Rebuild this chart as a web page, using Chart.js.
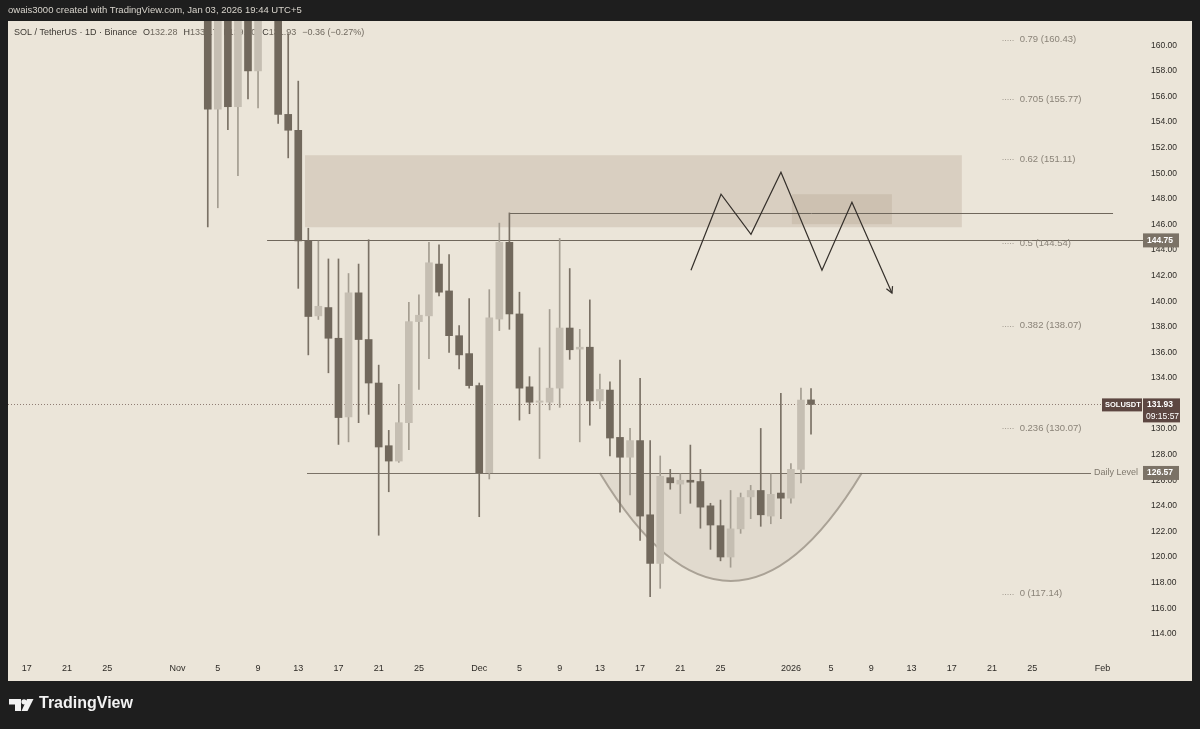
<!DOCTYPE html>
<html><head><meta charset="utf-8">
<script src="https://cdn.jsdelivr.net/npm/chart.js@4.4.1/dist/chart.umd.min.js"></script>
<style>
html,body{margin:0;padding:0;background:#1e1e1e;width:1200px;height:729px;overflow:hidden;}
#wrap{position:absolute;left:0;top:0;width:1200px;height:729px;}
#hdr{position:absolute;left:8px;top:4px;font:9.5px 'Liberation Sans',Arial,sans-serif;color:#d8d4cc;white-space:nowrap;}
#logo{position:absolute;left:39px;top:694px;font:bold 16px 'Liberation Sans',Arial,sans-serif;color:#f2f2f2;white-space:nowrap;}
</style></head>
<body>
<div id="wrap"><canvas id="c" width="1200" height="729"></canvas></div>
<div id="hdr">owais3000 created with TradingView.com, Jan 03, 2026 19:44 UTC+5</div>
<div id="logo">TradingView</div>
<script>
// ---------- DATA ----------
const dates = ['2025-11-04','2025-11-05','2025-11-06','2025-11-07','2025-11-08','2025-11-09','2025-11-10','2025-11-11','2025-11-12','2025-11-13',
'2025-11-14','2025-11-15','2025-11-16','2025-11-17','2025-11-18','2025-11-19','2025-11-20','2025-11-21','2025-11-22','2025-11-23',
'2025-11-24','2025-11-25','2025-11-26','2025-11-27','2025-11-28','2025-11-29','2025-11-30','2025-12-01','2025-12-02','2025-12-03',
'2025-12-04','2025-12-05','2025-12-06','2025-12-07','2025-12-08','2025-12-09','2025-12-10','2025-12-11','2025-12-12','2025-12-13',
'2025-12-14','2025-12-15','2025-12-16','2025-12-17','2025-12-18','2025-12-19','2025-12-20','2025-12-21','2025-12-22','2025-12-23',
'2025-12-24','2025-12-25','2025-12-26','2025-12-27','2025-12-28','2025-12-29','2025-12-30','2025-12-31','2026-01-01','2026-01-02','2026-01-03'];
const opens  = [164.5,155.0,163.5,155.2,163.5,158.0,164.0,167.0,154.6,153.36,
144.7,138.85,139.5,137.1,130.96,140.65,137.0,133.6,128.7,127.5,
130.5,138.4,138.85,142.9,140.8,137.3,135.9,133.4,126.6,138.6,
144.6,139.0,133.3,132.1,132.1,133.2,137.9,136.25,136.4,132.2,
133.05,129.35,127.8,129.1,123.3,119.5,126.2,125.7,126.0,125.9,
124.0,122.45,120.0,122.2,124.7,125.2,123.2,125.0,124.6,126.85,132.28];
const highs  = [167.0,165.0,165.0,166.0,165.0,166.0,170.0,168.0,160.9,157.2,
145.7,144.7,143.3,143.3,142.16,142.9,144.8,135.0,129.9,133.5,
139.9,140.5,144.6,144.4,143.65,138.1,140.2,133.6,140.9,146.1,
146.9,140.7,134.1,136.35,139.35,144.9,142.55,137.8,140.1,134.3,
133.7,135.4,130.05,133.96,129.1,127.9,126.85,126.5,128.75,126.85,
124.2,124.45,125.2,125.0,125.6,130.05,126.5,132.8,127.3,133.2,133.17];
const lows   = [145.8,147.3,153.4,149.8,155.8,155.1,162.3,153.9,151.2,141.0,
135.8,138.57,134.4,128.8,129.0,130.5,131.15,121.7,125.1,127.4,
128.4,133.1,135.5,140.4,136.0,134.7,133.2,123.15,126.1,137.7,
137.8,130.7,131.2,127.7,131.5,131.7,135.45,129.0,130.3,131.6,
127.9,123.5,124.85,121.3,116.9,117.55,125.3,123.4,124.2,122.25,
120.6,119.7,119.2,121.85,123.0,122.4,122.6,123.0,124.2,125.8,129.6];
const closes = [155.0,163.0,155.2,163.5,158.0,164.0,167.0,154.6,153.36,144.7,
138.8,139.6,137.1,130.9,140.65,137.0,133.6,128.6,127.5,130.5,
138.4,138.9,143.0,140.7,137.3,135.8,133.4,126.6,138.7,144.6,
139.0,133.2,132.1,132.2,133.2,137.9,136.2,136.4,132.2,133.1,
129.3,127.8,129.1,123.2,119.5,126.3,125.8,126.0,125.85,123.9,
122.5,120.0,122.2,124.65,125.2,123.3,124.9,124.6,126.85,132.27,131.93];

const yTickValues = [114,116,118,120,122,124,126,128,130,132,134,136,138,140,142,144,146,148,150,152,154,156,158,160];
const xTickDates  = ['2025-10-17','2025-10-21','2025-10-25','2025-11-01','2025-11-05','2025-11-09','2025-11-13','2025-11-17','2025-11-21','2025-11-25',
'2025-12-01','2025-12-05','2025-12-09','2025-12-13','2025-12-17','2025-12-21','2025-12-25','2026-01-01','2026-01-05','2026-01-09','2026-01-13','2026-01-17','2026-01-21','2026-01-25','2026-02-01'];
const xTickLabels = ['17','21','25','Nov','5','9','13','17','21','25','Dec','5','9','13','17','21','25','2026','5','9','13','17','21','25','Feb'];

const fibRatios = ['0.79','0.705','0.62','0.5','0.382','0.236','0'];
const fibPrices = [160.43,155.77,151.11,144.54,138.07,130.07,117.14];

const zigDays   = [66.06,69.05,72.03,75.01,79.09,82.07,86.05];
const zigPrices = [142.42,148.36,145.23,150.08,142.42,147.73,140.63];

const headerTitle = 'SOL / TetherUS · 1D · Binance';
const ohlcKeys = ['O','H','L','C'];
const ohlcVals = ['132.28','133.17','129.60','131.93'];
const changeText = '−0.36 (−0.27%)';

const lastPrice = 131.93, lastTime = '09:15:57';
const resistance = 144.75, upperLine = 146.875, dailyLevel = 126.57;
const zoneBig = {d0:27.67, d1:93.0, p0:145.78, p1:151.41};
const zoneSmall = {d0:76.1, d1:86.05, p0:146.02, p1:148.36};
const cup = {d0:57.0, d1:83.05, p:126.57, depth:8.44};

// ---------- HELPERS ----------
const base = Date.UTC(2025,9,17);
function dayIdx(s){const [y,m,d]=s.split('-').map(Number);return (Date.UTC(y,m-1,d)-base)/86400000;}
const candleX = dates.map(dayIdx);
const isUp = closes.map((c,i)=>c>=opens[i]);
const DARK='#71685c', LIGHT='#c5beb2', DARKW='#7a7165', LIGHTW='#a39c90';
const FONT="'Liberation Sans', Arial, sans-serif";

const annot = {
  id:'annot',
  beforeDraw(chart){
    const ctx=chart.ctx; ctx.save();
    ctx.fillStyle='#1e1e1e'; ctx.fillRect(0,0,1200,729);
    ctx.fillStyle='#ebe5d9'; ctx.fillRect(8,21,1184,660);
    // logo icon
    ctx.fillStyle='#f2f2f2';
    ctx.fillRect(9,699,12,5.5); ctx.fillRect(15,699,6,12);
    ctx.beginPath(); ctx.arc(24,701.8,2.6,0,Math.PI*2); ctx.fill();
    ctx.beginPath(); ctx.moveTo(27,699); ctx.lineTo(33.5,699); ctx.lineTo(27.5,711); ctx.lineTo(21.5,711); ctx.closePath(); ctx.fill();
    ctx.restore();
  },
  beforeDatasetsDraw(chart){
    const ctx=chart.ctx, xs=chart.scales.x, ys=chart.scales.y, ca=chart.chartArea;
    const X=v=>xs.getPixelForValue(v), Y=v=>ys.getPixelForValue(v);
    ctx.save();
    // header line
    ctx.font='9px '+FONT; ctx.textBaseline='middle';
    const hy=33; let hx=14;
    ctx.fillStyle='#3c3832'; ctx.fillText(headerTitle,hx,hy); hx+=ctx.measureText(headerTitle).width+6;
    ohlcKeys.forEach((k,i)=>{
      ctx.fillStyle='#3c3832'; ctx.fillText(k,hx,hy); hx+=ctx.measureText(k).width;
      ctx.fillStyle='#6f685e'; ctx.fillText(ohlcVals[i],hx,hy); hx+=ctx.measureText(ohlcVals[i]).width+6;
    });
    ctx.fillStyle='#6f685e'; ctx.fillText(changeText,hx,hy);
    // zones
    ctx.fillStyle='rgba(165,145,125,0.25)';
    ctx.fillRect(X(zoneBig.d0),Y(zoneBig.p1),X(zoneBig.d1)-X(zoneBig.d0),Y(zoneBig.p0)-Y(zoneBig.p1));
    ctx.fillStyle='rgba(165,145,125,0.22)';
    ctx.fillRect(X(zoneSmall.d0),Y(zoneSmall.p1),X(zoneSmall.d1)-X(zoneSmall.d0),Y(zoneSmall.p0)-Y(zoneSmall.p1));
    // cup (quadratic curve)
    const cx0=X(cup.d0), cx1=X(cup.d1), cy=Y(cup.p), cc=Y(cup.p-2*cup.depth);
    ctx.beginPath(); ctx.moveTo(cx0,cy); ctx.quadraticCurveTo((cx0+cx1)/2,cc,cx1,cy); ctx.closePath();
    ctx.fillStyle='rgba(160,145,128,0.13)'; ctx.fill();
    ctx.beginPath(); ctx.moveTo(cx0,cy); ctx.quadraticCurveTo((cx0+cx1)/2,cc,cx1,cy);
    ctx.strokeStyle='#aaa296'; ctx.lineWidth=2; ctx.stroke();
    // horizontal lines
    ctx.strokeStyle='#6f675c'; ctx.lineWidth=1;
    const hl=(d0,x1,p)=>{const y=Math.round(Y(p))+0.5;ctx.beginPath();ctx.moveTo(X(d0),y);ctx.lineTo(x1,y);ctx.stroke();};
    hl(23.9,ca.right,resistance);
    hl(48.06,X(108.04),upperLine);
    ctx.strokeStyle='#7a7267';
    hl(27.87,X(105.85),dailyLevel);
    // dotted last price
    ctx.strokeStyle='#8f7d74'; ctx.setLineDash([1,2]);
    const ly=Math.round(Y(lastPrice))+0.5;
    ctx.beginPath(); ctx.moveTo(ca.left,ly); ctx.lineTo(ca.right-41,ly); ctx.stroke();
    // fib labels
    ctx.strokeStyle='#a8a196'; ctx.setLineDash([1,1.5]);
    ctx.font='9.5px '+FONT; ctx.fillStyle='#8a8378'; ctx.textBaseline='middle';
    fibPrices.forEach((p,i)=>{
      const y=Math.round(Y(p))+0.5;
      ctx.beginPath(); ctx.moveTo(X(97.05),y); ctx.lineTo(X(98.2),y); ctx.stroke();
      ctx.fillText(fibRatios[i]+' ('+p.toFixed(2)+')',X(98.75),Y(p));
    });
    ctx.setLineDash([]);
    ctx.restore();
  },
  afterDatasetsDraw(chart){
    const ctx=chart.ctx, xs=chart.scales.x, ys=chart.scales.y, ca=chart.chartArea;
    const X=v=>xs.getPixelForValue(v), Y=v=>ys.getPixelForValue(v);
    ctx.save();
    // arrowhead
    const n=zigDays.length;
    const ex=X(zigDays[n-1]), ey=Y(zigPrices[n-1]), sx=X(zigDays[n-2]), sy=Y(zigPrices[n-2]);
    const ang=Math.atan2(ey-sy,ex-sx);
    ctx.strokeStyle='#35302b'; ctx.lineWidth=1.2;
    ctx.beginPath();
    ctx.moveTo(ex-7*Math.cos(ang-0.5),ey-7*Math.sin(ang-0.5)); ctx.lineTo(ex,ey);
    ctx.lineTo(ex-7*Math.cos(ang+0.5),ey-7*Math.sin(ang+0.5)); ctx.stroke();
    // Daily Level text
    ctx.font='9px '+FONT; ctx.fillStyle='#7f786d'; ctx.textBaseline='middle';
    ctx.fillText('Daily Level  -',ca.right-49,Y(dailyLevel));
    // price-axis boxes
    const bx=ca.right;
    const box=(p,txt,col)=>{const y=Y(p);ctx.fillStyle=col;ctx.fillRect(bx,y-7,36,14);
      ctx.fillStyle='#ffffff';ctx.font='bold 8.5px '+FONT;ctx.textAlign='left';ctx.fillText(txt,bx+4,y);};
    box(resistance,resistance.toFixed(2),'#7b7266');
    box(dailyLevel,dailyLevel.toFixed(2),'#7b7266');
    const y0=Y(lastPrice);
    ctx.fillStyle='#5c4641'; ctx.fillRect(bx,y0-6,37,24);
    ctx.fillStyle='#ffffff'; ctx.font='bold 8.5px '+FONT;
    ctx.fillText(lastPrice.toFixed(2),bx+4,y0);
    ctx.font='8.5px '+FONT; ctx.fillText(lastTime,bx+3,y0+12);
    ctx.fillStyle='#5c4641'; ctx.fillRect(bx-41,y0-6,40,13);
    ctx.fillStyle='#ffffff'; ctx.font='bold 7.5px '+FONT; ctx.fillText('SOLUSDT',bx-38,y0+0.5);
    ctx.restore();
  }
};

const chart = new Chart(document.getElementById('c'),{
  type:'bar',
  data:{datasets:[
    {type:'line',data:zigDays.map((d,i)=>({x:d,y:zigPrices[i]})),borderColor:'#35302b',borderWidth:1.2,pointRadius:0,tension:0,order:0},
    {data:candleX.map((x,i)=>({x,y:[lows[i],highs[i]]})),backgroundColor:isUp.map(u=>u?LIGHTW:DARKW),barThickness:1,grouped:false,order:2},
    {data:candleX.map((x,i)=>({x,y:[opens[i],closes[i]]})),backgroundColor:isUp.map(u=>u?LIGHT:DARK),barThickness:7,grouped:false,order:1,minBarLength:1}
  ]},
  options:{
    responsive:false,animation:false,devicePixelRatio:1,events:[],
    layout:{padding:{left:8,top:21,right:8,bottom:49}},
    plugins:{legend:{display:false},tooltip:{enabled:false}},
    scales:{
      x:{type:'linear',min:-1.87,max:111.02,offset:false,
        grid:{display:false,drawTicks:false,offset:false},border:{display:false},
        afterBuildTicks:s=>{s.ticks=xTickDates.map(d=>({value:dayIdx(d)}));},
        afterFit:s=>{s.height=25;},
        ticks:{autoSkip:false,maxRotation:0,padding:8,color:'#2e2b27',font:{family:FONT,size:9},
          callback:(v,i)=>xTickLabels[i]}},
      y:{position:'right',min:112.34,max:161.9,
        grid:{display:false,drawTicks:false},border:{display:false},
        afterBuildTicks:s=>{s.ticks=yTickValues.map(v=>({value:v}));},
        afterFit:s=>{s.width=49;},
        ticks:{padding:8,color:'#2e2b27',font:{family:FONT,size:8.5},callback:v=>Number(v).toFixed(2)}}
    }
  },
  plugins:[annot]
});
</script>
</body></html>
